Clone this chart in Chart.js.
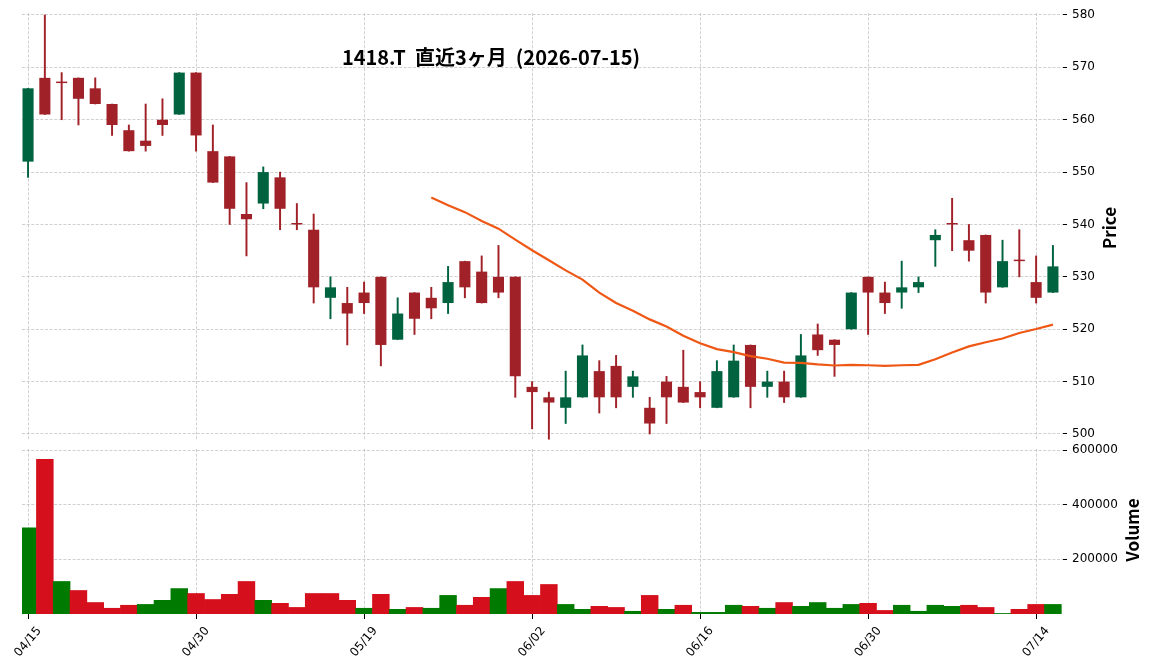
<!DOCTYPE html>
<html lang="ja">
<head>
<meta charset="utf-8">
<title>1418.T</title>
<script src="https://cdn.jsdelivr.net/npm/chart.js@4.4.1/dist/chart.umd.min.js"></script>
<style>
  html, body { margin: 0; padding: 0; background: #fff; }
  #wrap { position: relative; width: 1152px; height: 671px; overflow: hidden; }
  #wrap canvas { position: absolute; left: 0; }
</style>
</head>
<body>
<div id="wrap">
  <canvas id="chart-price" width="1152" height="456" style="top:0"></canvas>
  <canvas id="chart-volume" width="1152" height="271" style="top:400px"></canvas>
</div>
<script>
/* 1418.T 直近3ヶ月 — ローソク足 + 25日線 + 出来高 */
(function () {
    "use strict";

    const DATES = [
        "04/15", "04/16", "04/17", "04/20", "04/21", "04/22", "04/23", "04/24", "04/27", "04/28",
        "04/30", "05/01", "05/07", "05/08", "05/11", "05/12", "05/13", "05/14", "05/15", "05/18",
        "05/19", "05/20", "05/21", "05/22", "05/25", "05/26", "05/27", "05/28", "05/29", "06/01",
        "06/02", "06/03", "06/04", "06/05", "06/08", "06/09", "06/10", "06/11", "06/12", "06/15",
        "06/16", "06/17", "06/18", "06/19", "06/22", "06/23", "06/24", "06/25", "06/26", "06/29",
        "06/30", "07/01", "07/02", "07/03", "07/06", "07/07", "07/08", "07/09", "07/10", "07/13",
        "07/14", "07/15",
    ];
    const TICK_INDEX = [0, 10, 20, 30, 40, 50, 60];

    const OPEN = [
        552, 568, 567, 568, 566, 563, 558, 556, 560, 561,
        569, 554, 553, 542, 544, 549, 540, 539, 526, 525,
        527, 530, 518, 527, 526, 525, 533, 531, 530, 530,
        509, 507, 505, 507, 512, 513, 509, 505, 510, 509,
        508, 505, 507, 517, 509, 510, 507, 519, 518, 520,
        530, 527, 527, 528, 537, 540, 537, 538, 528, 533,
        529, 527,
    ];
    const HIGH = [
        566, 580, 569, 568, 568, 563, 559, 563, 564, 569,
        569, 559, 553, 548, 551, 550, 544, 542, 530, 528,
        529, 530, 526, 527, 528, 532, 533, 534, 536, 530,
        510, 508, 512, 517, 514, 515, 512, 507, 511, 516,
        510, 514, 517, 517, 512, 512, 519, 521, 518, 527,
        530, 529, 533, 530, 539, 545, 540, 538, 537, 539,
        534, 536,
    ];
    const LOW = [
        549, 561, 560, 559, 563, 557, 554, 554, 557, 561,
        554, 548, 540, 534, 543, 539, 539, 525, 522, 517,
        523, 513, 518, 519, 522, 523, 526, 525, 526, 507,
        501, 499, 502, 507, 504, 505, 507, 500, 502, 506,
        505, 505, 507, 505, 507, 506, 507, 515, 511, 520,
        519, 523, 524, 527, 532, 535, 533, 525, 528, 530,
        525, 527,
    ];
    const CLOSE = [
        566, 561, 567, 564, 563, 559, 554, 555, 559, 569,
        557, 548, 543, 541, 550, 543, 540, 528, 528, 523,
        525, 517, 523, 522, 524, 529, 528, 525, 527, 511,
        508, 506, 507, 515, 507, 507, 511, 502, 507, 506,
        507, 512, 514, 509, 510, 507, 515, 516, 517, 527,
        527, 525, 528, 529, 538, 540, 535, 527, 533, 533,
        526, 532,
    ];
    const VOLUME = [
        315000, 566000, 119000, 86000, 42000, 21000, 32000, 35000, 50000, 93000,
        75000, 53000, 72000, 119000, 50000, 39000, 24000, 75000, 75000, 50000,
        21000, 72000, 17000, 24000, 21000, 68000, 32000, 61000, 93000, 119000,
        68000, 108000, 35000, 17000, 28000, 24000, 10000, 68000, 17000, 32000,
        6000, 6000, 32000, 28000, 21000, 42000, 28000, 42000, 21000, 35000,
        39000, 13000, 32000, 10000, 32000, 28000, 32000, 24000, 2000, 17000,
        35000, 35000,
    ];
    // 25日移動平均 (index 24 から)
    const MA_START = 24;
    const MA25 = [
        545.16, 543.68, 542.36, 540.68, 539.20, 537.12, 535.08, 533.16, 531.24, 529.48,
        527.00, 525.00, 523.52, 521.88, 520.52, 518.76, 517.32, 516.20, 515.64, 514.88,
        514.36, 513.64, 513.56, 513.28, 513.08, 513.20, 513.12, 513.00, 513.12, 513.20,
        514.28, 515.56, 516.72, 517.52, 518.24, 519.28, 520.04, 520.88,
    ];
    const PRICE_TICKS = [500, 510, 520, 530, 540, 550, 560, 570, 580];
    const VOLUME_TICKS = [200000, 400000, 600000];

    const TITLE = "1418.T  直近3ヶ月  (2026-07-15)";

    const COLORS = {
        candleUp: "#006340",
        candleDown: "#a02128",
        volUp: "#007a00",
        volDown: "#d50f1c",
        ma: "#ef5714",
        grid: "#c4c4c4",
        text: "#000000",
    };
    const TICK_FONT = { family: "'DejaVu Sans'", size: 12 };
    const LABEL_FONT = "bold 17px 'Noto Sans CJK JP'";

    const X_MIN = -0.36;
    const X_MAX = 61.6;
    const AXIS_W = 89;

    const candleColor = i => (CLOSE[i] > OPEN[i] ? COLORS.candleUp : COLORS.candleDown);
    const volColor = i => (i > 0 && CLOSE[i] > CLOSE[i - 1]) || (i === 0 && CLOSE[0] > OPEN[0])
        ? COLORS.volUp : COLORS.volDown;

    function xScale(showTicks) {
        return {
            type: "linear",
            min: X_MIN,
            max: X_MAX,
            offset: false,
            afterBuildTicks: s => { s.ticks = TICK_INDEX.map(v => ({ value: v })); },
            afterFit: s => { s.height = showTicks ? 57 : 0; },
            ticks: { display: false },
            border: { display: false, dash: [3, 1.6] },
            grid: {
                offset: false,
                color: COLORS.grid,
                lineWidth: 0.8,
                drawTicks: showTicks,
                tickLength: 5,
                tickColor: "#000",
                tickWidth: 1,
                tickBorderDash: [],
            },
        };
    }

    function yScale(min, max, ticks, fmt) {
        return {
            type: "linear",
            position: "right",
            min, max,
            afterBuildTicks: s => { s.ticks = ticks.map(v => ({ value: v })); },
            afterFit: s => { s.width = AXIS_W; },
            border: { display: false, dash: [3, 1.6] },
            grid: {
                color: COLORS.grid,
                lineWidth: 0.8,
                tickLength: 4,
                tickColor: "#000",
                tickWidth: 1,
                tickBorderDash: [],
            },
            ticks: { color: COLORS.text, font: TICK_FONT, padding: 5, callback: fmt },
        };
    }

    function textPlugin(id, draw) {
        return {
            id,
            afterDraw(chart) {
                const ctx = chart.ctx;
                ctx.save();
                ctx.fillStyle = COLORS.text;
                draw(ctx, chart);
                ctx.restore();
            },
        };
    }

    function rotatedText(ctx, text, x, y, angle) {
        ctx.save();
        ctx.translate(x, y);
        ctx.rotate(angle);
        ctx.textAlign = "center";
        ctx.textBaseline = "middle";
        ctx.fillText(text, 0, 0);
        ctx.restore();
    }

    function renderPrice() {
        const idx = DATES.map((_, i) => i);
        new Chart(document.getElementById("chart-price"), {
            data: {
                datasets: [
                    {
                        type: "bar",
                        label: "wick",
                        data: idx.map(i => ({ x: i, y: [LOW[i], HIGH[i]] })),
                        backgroundColor: idx.map(candleColor),
                        barThickness: 1.3,
                        grouped: false,
                        order: 3,
                    },
                    {
                        type: "bar",
                        label: "body",
                        data: idx.map(i => ({ x: i, y: [OPEN[i], CLOSE[i]] })),
                        backgroundColor: idx.map(candleColor),
                        barPercentage: 0.66,
                        categoryPercentage: 1,
                        minBarLength: 1.5,
                        grouped: false,
                        order: 2,
                    },
                    {
                        type: "line",
                        label: "MA25",
                        data: MA25.map((v, k) => ({ x: MA_START + k, y: v })),
                        borderColor: COLORS.ma,
                        borderWidth: 2.2,
                        pointRadius: 0,
                        tension: 0,
                        order: 1,
                    },
                ],
            },
            options: {
                responsive: false,
                animation: false,
                devicePixelRatio: 1,
                // 縦軸ラベル分の余白を確保しつつ、描画域は y=13..441
                layout: { padding: { left: 22, top: 13, right: 0, bottom: 15 } },
                plugins: { legend: { display: false }, tooltip: { enabled: false } },
                scales: {
                    x: xScale(false),
                    y: yScale(498.66, 580.38, PRICE_TICKS, v => String(v)),
                },
            },
            plugins: [textPlugin("price-text", ctx => {
                ctx.font = "bold 20px 'Noto Sans CJK JP'";
                ctx.textAlign = "center";
                ctx.textBaseline = "middle";
                ctx.fillText(TITLE, 491, 57);
                ctx.font = LABEL_FONT;
                rotatedText(ctx, "Price", 1110, 228, -Math.PI / 2);
            })],
        });
    }

    function renderVolume() {
        const idx = DATES.map((_, i) => i);
        new Chart(document.getElementById("chart-volume"), {
            type: "bar",
            data: {
                datasets: [{
                    label: "Volume",
                    data: idx.map(i => ({ x: i, y: VOLUME[i] })),
                    backgroundColor: idx.map(volColor),
                    barPercentage: 1,
                    categoryPercentage: 1,
                    borderWidth: 0,
                }],
            },
            options: {
                responsive: false,
                animation: false,
                devicePixelRatio: 1,
                layout: { padding: { left: 22, top: 49, right: 0, bottom: 0 } },
                plugins: { legend: { display: false }, tooltip: { enabled: false } },
                scales: {
                    x: xScale(true),
                    y: yScale(0, 603659, VOLUME_TICKS, v => String(v)),
                },
            },
            plugins: [textPlugin("volume-text", (ctx, chart) => {
                const xs = chart.scales.x;
                ctx.font = "12px 'DejaVu Sans'";
                for (const i of TICK_INDEX) {
                    rotatedText(ctx, DATES[i], xs.getPixelForValue(i), 242, -50 * Math.PI / 180);
                }
                ctx.font = LABEL_FONT;
                rotatedText(ctx, "Volume", 1133, 130, -Math.PI / 2);
            })],
        });
    }

    const fonts = ["bold 20px 'Noto Sans CJK JP'", "12px 'DejaVu Sans'"];
    Promise.all(fonts.map(f => document.fonts.load(f, "直近3ヶ月")))
        .catch(() => null)
        .then(() => { renderPrice(); renderVolume(); });
})();
</script>
</body>
</html>
